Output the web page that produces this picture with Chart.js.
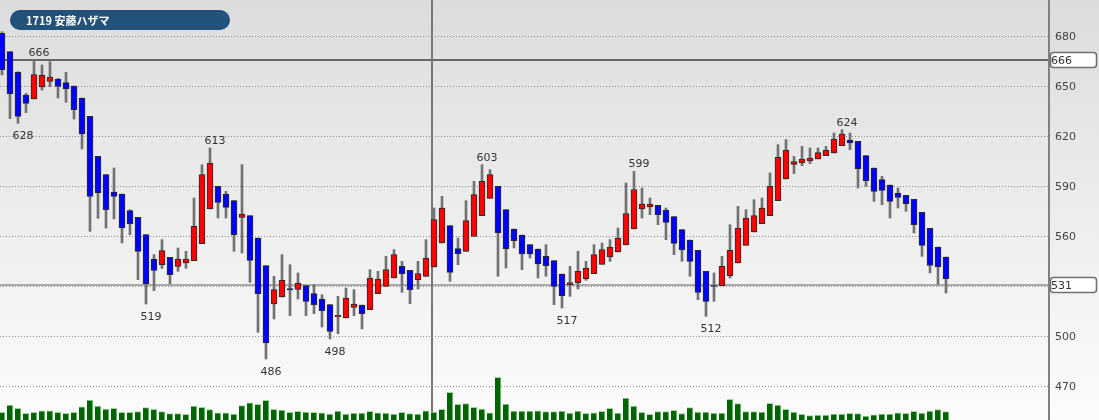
<!DOCTYPE html>
<html><head><meta charset="utf-8">
<script src="https://cdn.jsdelivr.net/npm/chart.js@4"></script>
<style>
html,body{margin:0;padding:0;background:#fff;}
#wrap{position:relative;width:1099px;height:420px;background:linear-gradient(to bottom,#dcdcdc 0%,#ebebeb 45%,#fcfcfc 100%);overflow:hidden;}
#badge{position:absolute;left:10px;top:10px;width:220px;height:20px;border-radius:10px;background:#22527a;color:#fff;font:bold 11px 'Noto Sans CJK JP','Noto Sans',sans-serif;line-height:20px;box-sizing:border-box;padding-left:16px;white-space:nowrap;}
canvas{position:absolute;left:0;top:0;}
</style></head><body>
<div id="wrap"><canvas id="c" width="1099" height="420"></canvas><div id="badge">1719 安藤ハザマ</div></div>
<script>
const opens  = [682,671,658.6,645,642.6,649.8,653.2,654.6,652.4,650.4,643.2,632.2,608.2,597.2,586.8,585.6,575.6,571.6,561.2,546.6,543.2,547.6,542.2,544.2,545.6,555.8,576.6,590.2,585.6,581.6,571.6,572.6,559.2,542.6,519.6,523.8,528.8,528.4,530.6,525.8,522.6,519.2,511.8,511.2,517.6,519,516.2,525.8,530.2,535.2,542.2,539.8,534.2,536.2,541.8,556.2,566.6,552.8,551.2,560.2,572.6,583,590.2,576.2,564.6,561,555.2,552.6,548.2,545.6,537.6,531.2,532.4,534.8,537.8,543.4,547.8,550.8,555,564.6,576.6,577.8,578.8,576,572,564.2,558,551.8,539.2,530.6,530.6,536.6,544.2,554.8,562.8,567.8,572.6,581.6,594.6,603.4,604.2,605.4,606.6,608.6,610.2,614.6,618,617.2,608.6,601.2,594.2,591,586.2,584.8,582.4,574.6,565,553.8,547.8];
const highs  = [683,671,659,646,666,663,665,655,658.6,650.4,643.2,632.2,608.2,597.2,601.2,585.6,576.2,571.6,561.2,549.2,558.2,547.6,553.2,551.2,583.2,603.2,613.2,590.2,587.2,581.6,603.2,572.6,559.2,542.6,536.2,549.2,543.2,538.2,530.6,531.2,525.2,519.2,524.2,529.2,528.2,519,540.2,539.2,548.2,552.2,545.2,539.8,545.2,558.2,577.2,584.2,566.6,559.2,581.6,593.2,603.2,600.2,590.2,576.2,564.6,561,555.2,552.6,555.2,545.6,537.6,542.2,551.2,545.2,555.2,556.2,558.2,565.2,592.2,599.2,589.2,583.2,578.8,577.2,572,564.2,558,551.8,539.2,538.2,548.2,567.2,578.2,576.2,582.2,583.2,598.2,615.2,618.2,608.2,614.2,613.2,613.2,614.2,622.2,624.2,622.2,617.2,608.6,601.2,596.2,591,589.2,584.8,582.4,574.6,565,553.8,547.8];
const lows   = [657,630.8,628,634.4,642.6,648,650,643.2,640.6,630.6,612.6,563.2,571,565.2,570.6,556.2,561.2,534.2,519.6,527.6,541,531.6,539.2,541,545.6,555.8,576.6,571.2,571.2,551.2,550.2,532.6,502.6,486.6,510.6,523.8,512.6,522.6,512.6,513.8,505.8,498.6,501.8,511.2,512.6,504.6,516.2,525.8,530.2,535.2,526.6,519.8,528.6,536.2,541.8,556.2,533.2,543.2,551.2,560.2,572.6,583,536.2,541.2,553.2,540.2,547.2,535.2,536.2,519.2,517.2,524.2,528.6,533.8,537.8,543.4,545.2,550.8,555,564.6,571.2,573.2,567.2,558.2,549.2,545.2,536.2,522.2,512.2,521.2,530.6,535.2,544.2,554.8,562.8,567.8,572.6,581.6,594.6,597.8,602.6,603.8,606.6,608.6,610.2,614.6,612.2,589.2,590.2,581.2,579.2,571.2,577.2,575.2,562.2,548.2,538.2,531.2,526.2];
const closes = [660.2,645.8,632.2,640,657.2,656.8,655.8,650.2,648.6,636.2,621.6,584.2,586.2,576.2,584.2,565.2,567.6,551.2,531.6,539.8,551.6,537.2,546.6,546.6,566.2,597.2,604.2,580.6,577.6,561.2,573.6,545.8,525.8,496.2,528.2,533.8,528,532.2,521.2,519.2,515.6,503.2,512.8,523.2,519.6,513.8,535.2,534.6,540.2,549.2,537.8,528.2,537.8,547.2,570.2,577.2,538.6,549.8,569.6,585.2,593.2,597.2,562.2,552.6,557.6,549.6,549.6,543.6,542.6,530.2,524.6,532.4,539.2,541.2,549.2,552.2,553.8,559.2,573.8,588.2,579.6,579.6,573.2,568.6,556,552,545.2,526.6,521.2,530.2,542.2,551.8,565.2,571.2,572.6,577.2,590.2,607.6,611.8,605,606.6,607.2,610.4,611.8,618.6,621.6,616.2,600.6,593.6,587.2,587.8,581.2,583.6,579.8,567.2,554.8,542.8,541.8,534.8];
const volumes = [192,375,292,168,192,232,232,192,168,192,332,500,350,275,292,192,192,208,308,268,208,158,158,142,350,318,258,182,182,150,358,432,392,492,268,250,192,218,200,192,182,150,225,150,175,175,218,182,175,150,192,158,150,232,200,268,692,392,408,318,275,182,1068,400,225,225,225,232,212,208,225,175,225,168,182,218,292,175,550,350,192,142,208,208,242,158,308,200,200,175,175,518,408,208,208,200,418,375,268,200,142,108,125,125,150,150,168,158,100,132,150,150,182,168,218,175,225,258,208];
const priceTicks = [470,500,530,560,590,620,650,680];
const refLines = [666,531];
const markerIdx = [4,2,26,18,33,41,60,70,79,88,105];
const markerVal = [666,628,613,519,486,498,603,517,599,512,624];
const markerPos = ['up','down','up','down','down','down','up','down','up','down','up'];
const dividerAt = 53.75;

const FONT = "'DejaVu Sans', Verdana, sans-serif";
const idx = opens.map((_, i) => i);
const bodyColors = idx.map(i => closes[i] >= opens[i] ? '#ff0000' : '#0000ff');
const refColors = ['#666666', '#ababab'];

const overlay = {
  id: 'overlay',
  beforeDatasetsDraw(chart) {
    const {ctx, chartArea: a, scales: {x, y}} = chart;
    ctx.save();
    ctx.lineWidth = 2;
    refLines.forEach((v, k) => {
      const py = Math.round(y.getPixelForValue(v));
      ctx.strokeStyle = refColors[k];
      ctx.beginPath(); ctx.moveTo(a.left, py); ctx.lineTo(a.right, py); ctx.stroke();
    });
    const px = Math.round(x.getPixelForValue(dividerAt));
    ctx.strokeStyle = '#777777';
    ctx.beginPath(); ctx.moveTo(px, 0); ctx.lineTo(px, chart.height); ctx.stroke();
    ctx.strokeStyle = '#808080';
    ctx.beginPath(); ctx.moveTo(a.right + 1, 0); ctx.lineTo(a.right + 1, chart.height); ctx.stroke();
    ctx.restore();
  },
  afterDraw(chart) {
    const {ctx, chartArea: a, scales: {x, y}} = chart;
    ctx.save();
    ctx.font = '11px ' + FONT;
    ctx.fillStyle = '#333333';
    ctx.textAlign = 'center';
    ctx.textBaseline = 'alphabetic';
    markerIdx.forEach((i, k) => {
      const px = x.getPixelForValue(i) + 5;
      const v = markerVal[k];
      if (markerPos[k] === 'up') {
        ctx.fillText(String(v), px, y.getPixelForValue(highs[i]) - 4);
      } else {
        ctx.fillText(String(v), px, y.getPixelForValue(lows[i]) + 16);
      }
    });
    refLines.forEach(v => {
      const py = Math.round(y.getPixelForValue(v));
      ctx.beginPath();
      ctx.roundRect(a.right + 2.5, py - 7.5, 46, 15, 3);
      ctx.fillStyle = '#ffffff';
      ctx.fill();
      ctx.strokeStyle = '#707070';
      ctx.lineWidth = 1.5;
      ctx.stroke();
      ctx.fillStyle = '#333333';
      ctx.textAlign = 'left';
      ctx.textBaseline = 'middle';
      ctx.fillText(String(v), a.right + 3, py + 1);
    });
    ctx.restore();
  }
};

new Chart(document.getElementById('c'), {
  type: 'bar',
  data: {
    datasets: [
      {label: 'wick', data: idx.map(i => ({x: i, y: [lows[i], highs[i]]})), backgroundColor: '#727272', borderWidth: 0, barThickness: 2, grouped: false, order: 3, yAxisID: 'y'},
      {label: 'body', data: idx.map(i => ({x: i, y: [opens[i], closes[i]]})), backgroundColor: bodyColors, borderColor: '#2a2a2a', borderWidth: 1, borderSkipped: false, barThickness: 6, grouped: false, order: 2, yAxisID: 'y'},
      {label: 'volume', data: idx.map(i => ({x: i, y: volumes[i]})), backgroundColor: '#006400', borderColor: '#a3d3a3', borderWidth: {top: 1, right: 1, left: 0, bottom: 0}, borderSkipped: false, barThickness: 6, grouped: false, order: 1, yAxisID: 'yv'}
    ]
  },
  options: {
    responsive: false,
    animation: false,
    devicePixelRatio: 1,
    layout: {padding: 0},
    plugins: {legend: {display: false}, tooltip: {enabled: false}},
    scales: {
      x: {type: 'linear', min: -0.25, max: 130.75, display: false, offset: false},
      y: {
        position: 'right', min: 450, max: 702,
        afterBuildTicks: s => { s.ticks = priceTicks.map(v => ({value: v})); },
        afterFit: s => { s.width = 51; s.paddingTop = 0; s.paddingBottom = 0; },
        grid: {color: '#8a8a8a', lineWidth: 1, drawTicks: false},
        border: {display: false, dash: [1, 2]},
        ticks: {padding: 7, color: '#444444', font: {family: FONT, size: 11}, callback: v => v === 530 ? '' : String(v)}
      },
      yv: {display: false, min: 0, max: 10500}
    }
  },
  plugins: [overlay]
});
</script>
</body></html>
